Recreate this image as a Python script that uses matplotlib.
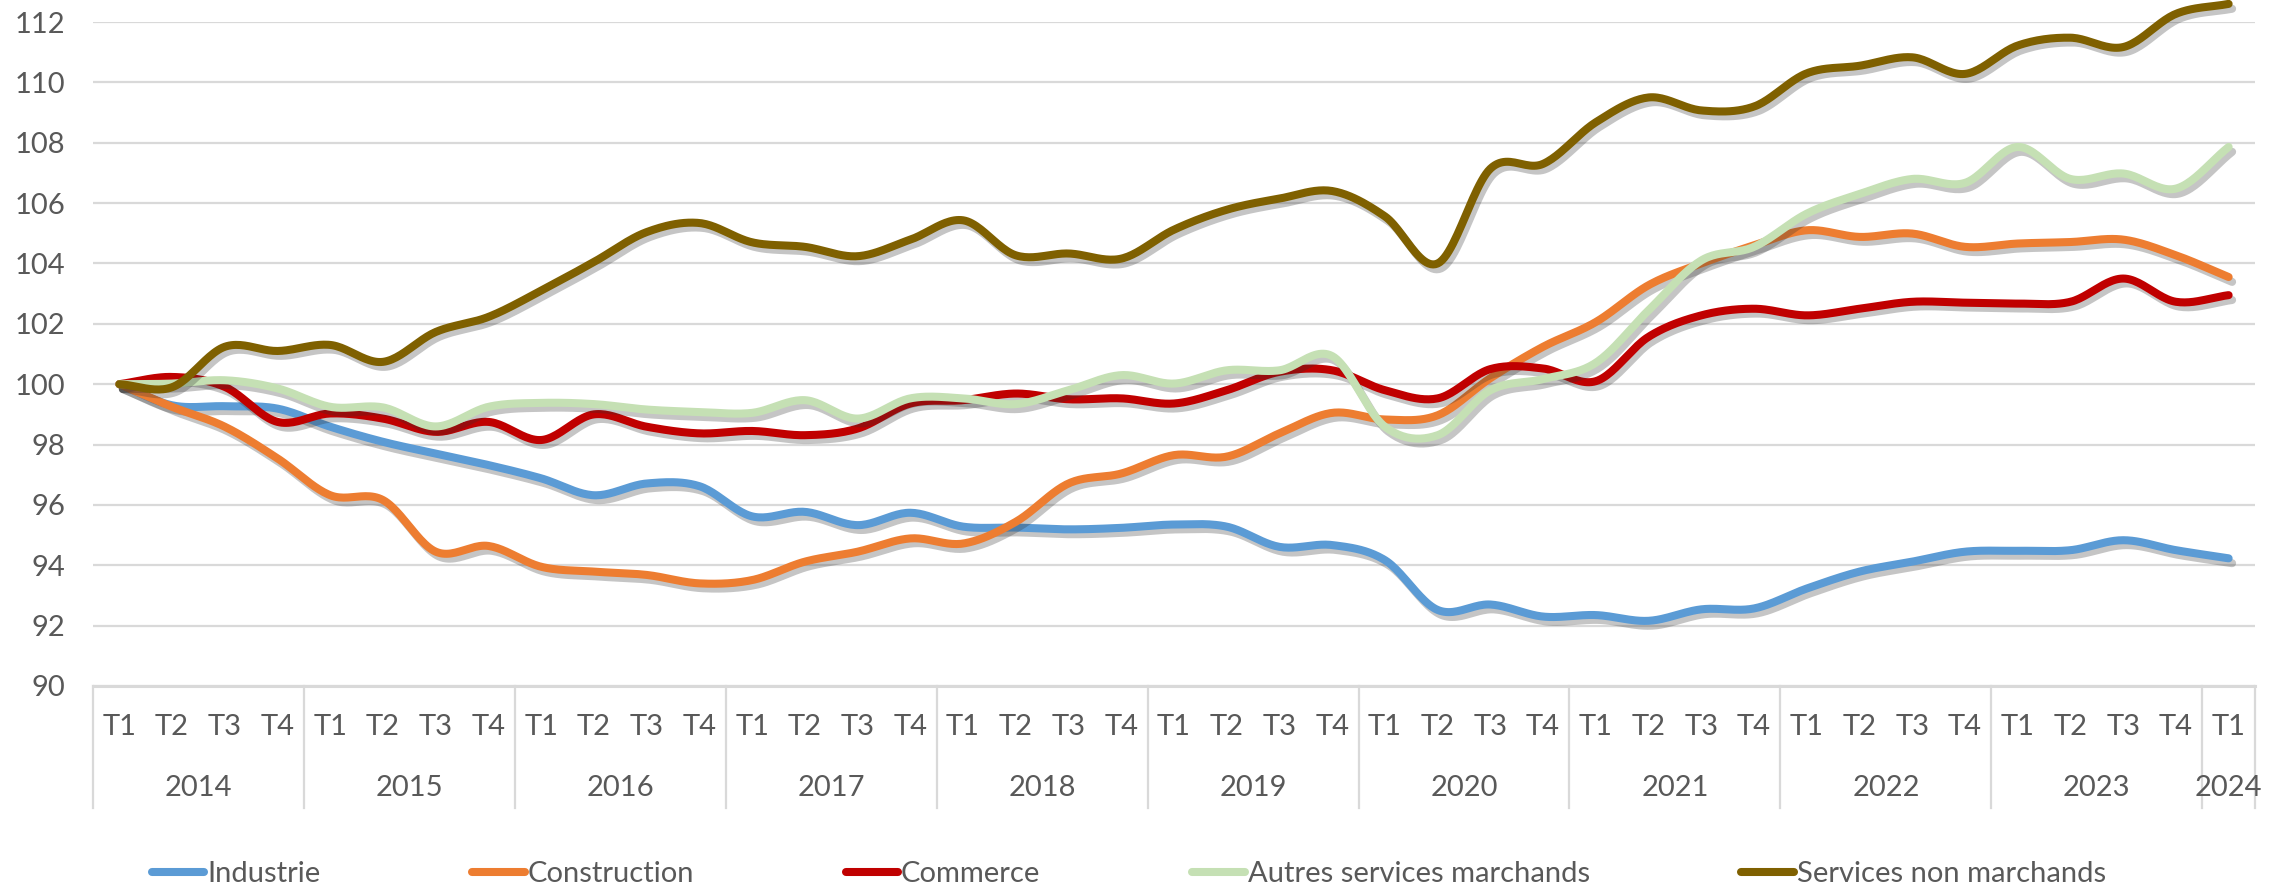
import numpy as np
import matplotlib
matplotlib.use("Agg")
import matplotlib.pyplot as plt
import matplotlib.patheffects as pe
from matplotlib.transforms import blended_transform_factory
from matplotlib.lines import Line2D

years = ["2014", "2015", "2016", "2017", "2018", "2019", "2020", "2021", "2022", "2023", "2024"]
quarters = ["T1", "T2", "T3", "T4"] * 10 + ["T1"]

industrie = [100.0, 99.30, 99.27, 99.19, 98.59, 98.09, 97.70, 97.32, 96.88, 96.32, 96.71, 96.62,
             95.62, 95.77, 95.33, 95.74, 95.28, 95.25, 95.19, 95.24, 95.35, 95.28, 94.61, 94.67,
             94.17, 92.52, 92.70, 92.30, 92.35, 92.16, 92.54, 92.57, 93.23, 93.79, 94.12, 94.45,
             94.48, 94.50, 94.83, 94.50, 94.23]
construction = [100.0, 99.25, 98.59, 97.54, 96.32, 96.16, 94.45, 94.64, 93.95, 93.79, 93.68, 93.40,
                93.51, 94.12, 94.45, 94.89, 94.72, 95.44, 96.71, 97.04, 97.65, 97.60, 98.37, 99.05,
                98.83, 98.97, 100.20, 101.24, 102.06, 103.28, 104.00, 104.60, 105.10, 104.88, 104.99, 104.55,
                104.66, 104.71, 104.79, 104.27, 103.55]
commerce = [100.0, 100.24, 99.91, 98.75, 99.03, 98.86, 98.42, 98.75, 98.15, 99.00, 98.59, 98.37,
            98.45, 98.31, 98.53, 99.36, 99.47, 99.69, 99.50, 99.53, 99.36, 99.80, 100.41, 100.46,
            99.80, 99.53, 100.50, 100.52, 100.10, 101.57, 102.28, 102.50, 102.28, 102.50, 102.73, 102.70,
            102.67, 102.73, 103.50, 102.73, 102.95]
autres = [100.0, 100.02, 100.13, 99.86, 99.25, 99.23, 98.60, 99.25, 99.38, 99.34, 99.16, 99.08,
          99.05, 99.47, 98.86, 99.53, 99.53, 99.34, 99.80, 100.30, 100.02, 100.46, 100.46, 100.93,
          98.59, 98.31, 99.80, 100.17, 100.71, 102.45, 104.10, 104.55, 105.65, 106.30, 106.80, 106.67,
          107.86, 106.80, 106.98, 106.48, 107.86]
non_marchands = [100.0, 99.90, 101.24, 101.10, 101.30, 100.74, 101.73, 102.23, 103.10, 104.05, 105.04, 105.34,
                 104.70, 104.55, 104.24, 104.79, 105.43, 104.27, 104.33, 104.16, 105.12, 105.78, 106.15, 106.40,
                 105.56, 104.00, 107.14, 107.30, 108.68, 109.50, 109.07, 109.20, 110.30, 110.55, 110.83, 110.28,
                 111.22, 111.48, 111.17, 112.27, 112.60]

series_names = ["Industrie", "Construction", "Commerce", "Autres services marchands", "Services non marchands"]
series_values = [industrie, construction, commerce, autres, non_marchands]
series_colors = ["#5B9BD5", "#ED7D31", "#C00000", "#C5E0B4", "#7F6000"]

FONT = ["Lato", "DejaVu Sans"]
plt.rcParams["font.family"] = FONT
TXT = "#595959"
GRID = "#D9D9D9"
FS = 21


def smooth(x, y, n=24):
    """Catmull-Rom smoothing (like Excel's smoothed line) through the data points."""
    x = np.asarray(x, float)
    y = np.asarray(y, float)
    px = np.concatenate([[2 * x[0] - x[1]], x, [2 * x[-1] - x[-2]]])
    py = np.concatenate([[2 * y[0] - y[1]], y, [2 * y[-1] - y[-2]]])
    xs, ys = [], []
    t = np.linspace(0, 1, n, endpoint=False)
    for i in range(1, len(px) - 2):
        for P, out in ((px, xs), (py, ys)):
            p0, p1, p2, p3 = P[i - 1], P[i], P[i + 1], P[i + 2]
            out.extend(0.5 * ((2 * p1) + (-p0 + p2) * t + (2 * p0 - 5 * p1 + 4 * p2 - p3) * t ** 2
                              + (-p0 + 3 * p1 - 3 * p2 + p3) * t ** 3))
    xs.append(x[-1])
    ys.append(y[-1])
    return np.array(xs), np.array(ys)


W, H = 2285, 886
fig = plt.figure(figsize=(W / 100, H / 100), dpi=100)
ax = fig.add_axes([93 / W, 1 - 686 / H, (2255 - 93) / W, (686 - 22) / H])

n = len(quarters)
xpos = np.arange(n)

for name, vals, col in zip(series_names, series_values, series_colors):
    sx, sy = smooth(xpos, vals)
    ax.plot(sx, sy, color=col, lw=5.8, solid_capstyle="round", label=name, zorder=3, clip_on=False,
            path_effects=[pe.SimpleLineShadow(offset=(2.5, -3.5), shadow_color="#303030", alpha=0.28),
                          pe.Normal()])

ax.set_xlim(-0.5, n - 0.5)
ax.set_ylim(90, 112)
ax.set_yticks(np.arange(90, 113, 2))
ax.yaxis.grid(True, color=GRID, lw=1.6)
ax.set_axisbelow(True)
for s in ["top", "right", "left"]:
    ax.spines[s].set_visible(False)
ax.spines["bottom"].set_color(GRID)
ax.spines["bottom"].set_linewidth(2.2)
ax.tick_params(axis="y", length=0, pad=20, labelsize=FS, labelcolor=TXT)
ax.set_xticks([])

tr = blended_transform_factory(ax.transData, ax.transAxes)
for i, q in enumerate(quarters):
    ax.text(i, -0.062, q, transform=tr, ha="center", va="center", fontsize=FS, color=TXT)

# year groups
bounds = []
start = 0
for yi, yr in enumerate(years):
    cnt = sum(1 for k in range(n) if k // 4 == yi)
    end = start + cnt
    ax.text((start + end - 1) / 2, -0.154, yr, transform=tr, ha="center", va="center",
            fontsize=FS, color=TXT)
    bounds.append(start - 0.5)
    start = end
bounds.append(n - 0.5)
for b in bounds:
    ax.add_line(Line2D([b, b], [0, -0.184], transform=tr, color=GRID, lw=1.6, clip_on=False))

handles = [Line2D([0], [0], color=c, lw=5.8, solid_capstyle="round") for c in series_colors]
fig.legend(handles, series_names, loc="center", bbox_to_anchor=(0.494, 0.013), ncol=5,
           frameon=False, fontsize=FS, labelcolor=TXT, handlelength=1.8, handletextpad=0.1,
           columnspacing=5.2)

fig.savefig("out.png", dpi=100, facecolor="white")
